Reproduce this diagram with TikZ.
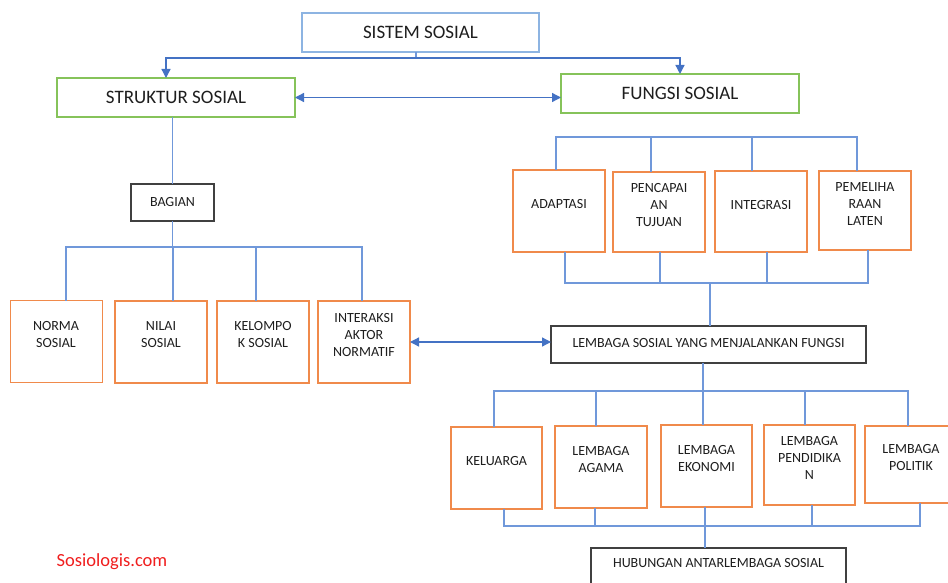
\documentclass[tikz,border=0pt]{standalone}
\usepackage{fontspec}
\setmainfont{Carlito}
\usetikzlibrary{arrows.meta}
\definecolor{cblue}{HTML}{4472C4}
\definecolor{lblue}{HTML}{7098DA}
\definecolor{sblue}{HTML}{8DB4E2}
\definecolor{cgreen}{HTML}{86C35A}
\definecolor{corange}{HTML}{F08A4B}
\definecolor{cgray}{HTML}{404040}
\definecolor{ctext}{HTML}{1E1E1E}
\definecolor{cred}{HTML}{F01E1E}
\begin{document}
\begin{tikzpicture}[x=1pt,y=-1pt,
  bx/.style 2 args={minimum width=#1pt, minimum height=#2pt},
  boxbase/.style={draw, line width=1.6pt, inner sep=0pt, outer sep=0pt, fill=white, text=ctext},
  bluebox/.style={boxbase, draw=sblue},
  greenbox/.style={boxbase, draw=cgreen},
  graybox/.style={boxbase, draw=cgray},
  orbox/.style={boxbase, draw=corange, bx={92}{82}},
  big/.style={font=\fontsize{19}{23}\selectfont},
  small/.style={font=\fontsize{14}{17}\selectfont},
  txt/.style={small, text=ctext, align=center, inner sep=0pt},
  conn/.style={draw=lblue, line width=1.4pt},
  arr/.style={draw=cblue, line width=1.3pt, -{Triangle[length=9pt,width=9pt]}},
  darr/.style={draw=cblue, line width=1.3pt, {Triangle[length=9pt,width=9pt]}-{Triangle[length=9pt,width=9pt]}}
]
\useasboundingbox (0,0) rectangle (948,583);
\clip (0,0) rectangle (948,583);
\fill[white] (0,0) rectangle (948,583);

% top level
\node[bluebox, bx={237}{39}, big] (sistem) at (420.5,32.5) {SISTEM SOSIAL};
\node[greenbox, bx={238}{39}, big] (struktur) at (176,97.5) {STRUKTUR SOSIAL};
\node[greenbox, bx={238}{39}, big] (fungsi) at (680,93.5) {FUNGSI SOSIAL};

% left branch
\node[graybox, bx={83}{37}, small] (bagian) at (172.5,202.5) {BAGIAN};
\node[orbox] (norma) at (56.5,341.5) {};
\node[orbox] (nilai) at (161,342) {};
\node[orbox] (kelompok) at (263,342) {};
\node[orbox] (interaksi) at (364,342) {};
\node[txt] (normaT) at (56,335) {NORMA\\SOSIAL};
\node[txt] (nilaiT) at (161,335) {NILAI\\SOSIAL};
\node[txt] (kelompokT) at (263,335) {KELOMPO\\K SOSIAL};
\node[txt] (interaksiT) at (364,335) {INTERAKSI\\AKTOR\\NORMATIF};

% right branch: functions
\node[orbox] (adaptasi) at (559,211) {};
\node[orbox, bx={92}{80}] (pencapaian) at (659,212) {};
\node[orbox, bx={92}{81}] (integrasi) at (761,211.5) {};
\node[orbox, bx={92}{79}] (pemeliharaan) at (865,210.5) {};
\node[txt] (adaptasiT) at (559,204) {ADAPTASI};
\node[txt] (pencapaianT) at (659,205) {PENCAPAI\\AN\\TUJUAN};
\node[txt] (integrasiT) at (761,205) {INTEGRASI};
\node[txt] (pemeliharaanT) at (865,204) {PEMELIHA\\RAAN\\LATEN};

% lembaga
\node[graybox, bx={315}{37}, small] (lembaga) at (708.5,344.5) {\raisebox{3pt}{LEMBAGA SOSIAL YANG MENJALANKAN FUNGSI}};

\node[orbox, bx={91}{82}] (keluarga) at (496.5,468) {};
\node[orbox] (agama) at (601,467) {};
\node[orbox, bx={91}{82}] (ekonomi) at (706.5,466) {};
\node[orbox, bx={91}{80}] (pendidikan) at (809.5,465) {};
\node[orbox, bx={92}{77}] (politik) at (911,464.5) {};
\node[txt] (keluargaT) at (496.5,461) {KELUARGA};
\node[txt] (agamaT) at (601,459.5) {LEMBAGA\\AGAMA};
\node[txt] (ekonomiT) at (706.5,459) {LEMBAGA\\EKONOMI};
\node[txt] (pendidikanT) at (809.5,458) {LEMBAGA\\PENDIDIKA\\N};
\node[txt] (politikT) at (911,458) {LEMBAGA\\POLITIK};

\node[graybox, bx={255}{44}] (hubungan) at (718.5,570) {};
\node[txt] (hubunganT) at (718.5,563) {HUBUNGAN ANTARLEMBAGA SOSIAL};

\node[text=cred, font=\fontsize{18.5}{22}\selectfont, inner sep=0pt] (logo) at (112,562) {Sosiologis.com};

% connectors top
\coordinate (j1) at (416,58);
\draw[conn] (sistem.south -| j1) -- (j1);
\draw[arr] (j1) -| ([xshift=-10pt]struktur.north);
\draw[arr] (j1) -| (fungsi.north);
\draw[darr] (struktur.east) -- (struktur.east -| fungsi.west);

% left tree
\draw[conn] (struktur.south -| bagian.north) -- (bagian.north);
\coordinate (b1) at (172.5,247);
\draw[conn] (bagian.south) -- (b1);
\draw[conn] ([xshift=9.5pt]norma.north) |- ([xshift=-2pt]interaksi.north |- b1) -- ([xshift=-2pt]interaksi.north);
\draw[conn] ([xshift=12pt]nilai.north) -- ([xshift=12pt]nilai.north |- b1);
\draw[conn] ([xshift=-7pt]kelompok.north) -- ([xshift=-7pt]kelompok.north |- b1);
\draw[darr] (interaksi.east) -- (interaksi.east -| lembaga.west);

% function brackets
\coordinate (t1) at (556,137);
\draw[conn] ([xshift=-3pt]adaptasi.north) |- ([xshift=-8pt]pemeliharaan.north |- t1) -- ([xshift=-8pt]pemeliharaan.north);
\draw[conn] ([xshift=-8pt]pencapaian.north) -- ([xshift=-8pt]pencapaian.north |- t1);
\draw[conn] ([xshift=-9pt]integrasi.north) -- ([xshift=-9pt]integrasi.north |- t1);

\coordinate (t2) at (710,283);
\draw[conn] ([xshift=6pt]adaptasi.south) |- ([xshift=3pt]pemeliharaan.south |- t2) -- ([xshift=3pt]pemeliharaan.south);
\draw[conn] ([xshift=1pt]pencapaian.south) -- ([xshift=1pt]pencapaian.south |- t2);
\draw[conn] ([xshift=6pt]integrasi.south) -- ([xshift=6pt]integrasi.south |- t2);
\draw[conn] (t2) -- (t2 |- lembaga.north);

% institution brackets
\coordinate (t3) at (703,391);
\draw[conn] (lembaga.south -| t3) -- (t3);
\draw[conn] ([xshift=-2.5pt]keluarga.north) |- ([xshift=-3pt]politik.north |- t3) -- ([xshift=-3pt]politik.north);
\draw[conn] ([xshift=-5pt]agama.north) -- ([xshift=-5pt]agama.north |- t3);
\draw[conn] ([xshift=-3.5pt]ekonomi.north) -- ([xshift=-3.5pt]ekonomi.north |- t3);
\draw[conn] ([xshift=-4.5pt]pendidikan.north) -- ([xshift=-4.5pt]pendidikan.north |- t3);

\coordinate (t4) at (705,526);
\draw[conn] ([xshift=7.5pt]keluarga.south) |- ([xshift=9pt]politik.south |- t4) -- ([xshift=9pt]politik.south);
\draw[conn] ([xshift=-6pt]agama.south) -- ([xshift=-6pt]agama.south |- t4);
\draw[conn] ([xshift=-1.5pt]ekonomi.south) -- ([xshift=-1.5pt]ekonomi.south |- t4);
\draw[conn] ([xshift=2.5pt]pendidikan.south) -- ([xshift=2.5pt]pendidikan.south |- t4);
\draw[conn] (t4) -- (t4 |- hubungan.north);
\end{tikzpicture}
\end{document}
